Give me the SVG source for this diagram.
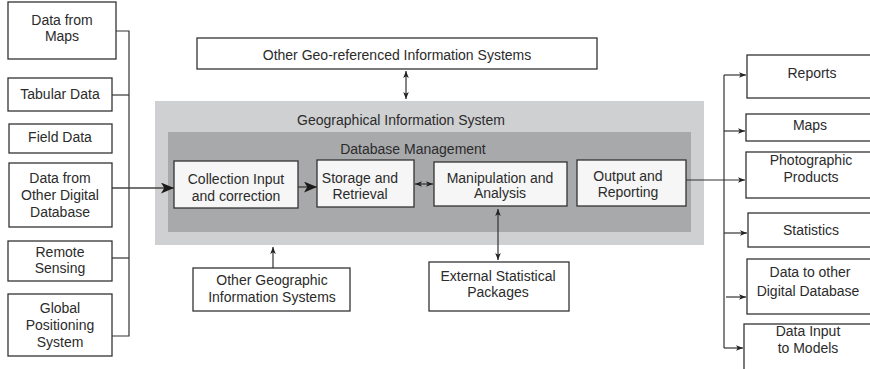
<svg xmlns="http://www.w3.org/2000/svg" width="870" height="369" viewBox="0 0 870 369">
<defs>
<style>
.box{fill:#ffffff;stroke:#333333;stroke-width:1.3}
.ibox{fill:#f6f6f6;stroke:#333333;stroke-width:1.3}
.t{font-family:"Liberation Sans",Arial,sans-serif;font-size:14px;fill:#2b2b2b;text-anchor:middle}
.ln{fill:none;stroke:#333333;stroke-width:1.2}
.lnb{fill:none;stroke:#444444;stroke-width:1.4}
</style>
<marker id="ah" viewBox="0 0 10 8" refX="10" refY="4" markerWidth="7" markerHeight="5.6" markerUnits="userSpaceOnUse" orient="auto-start-reverse">
<path d="M0,0 L10,4 L0,8 L2.5,4 Z" fill="#222222"/>
</marker>
<marker id="big" viewBox="0 0 12 10" refX="12" refY="5" markerWidth="13" markerHeight="11" markerUnits="userSpaceOnUse" orient="auto">
<path d="M0,0 L12,5 L0,10 L3,5 Z" fill="#1a1a1a"/>
</marker>
</defs>
<rect width="870" height="369" fill="#ffffff"/>

<g id="gis">
<rect x="155" y="101" width="549" height="144" fill="#cfd0d2"/>
<text class="t" x="401" y="125">Geographical Information System</text>
</g>
<g id="dbm">
<rect x="168" y="132" width="523" height="100" fill="#a8a9ab"/>
<text class="t" x="413" y="154">Database Management</text>
</g>

<g id="connectors">
<polyline class="ln" points="116,31 129,31 129,336 112,336"/>
<line class="ln" x1="112" y1="95" x2="129" y2="95"/>
<line class="ln" x1="112" y1="258" x2="129" y2="258"/>
<line class="lnb" x1="112" y1="188" x2="174" y2="188" marker-end="url(#big)"/>
<line class="lnb" x1="298" y1="187" x2="317" y2="187" marker-end="url(#big)"/>
<line class="ln" x1="415" y1="184" x2="433" y2="184" marker-start="url(#ah)" marker-end="url(#ah)"/>
<line class="ln" x1="406" y1="71" x2="406" y2="99" marker-start="url(#ah)" marker-end="url(#ah)"/>
<line class="ln" x1="273" y1="268" x2="273" y2="247" marker-end="url(#ah)"/>
<line class="ln" x1="498" y1="209" x2="498" y2="260" marker-start="url(#ah)" marker-end="url(#ah)"/>
<line class="ln" x1="686" y1="180" x2="745" y2="180" marker-end="url(#ah)"/>
<line class="ln" x1="724" y1="75" x2="724" y2="348"/>
<line class="ln" x1="724" y1="75" x2="746" y2="75" marker-end="url(#ah)"/>
<line class="ln" x1="724" y1="131" x2="745" y2="131" marker-end="url(#ah)"/>
<line class="ln" x1="724" y1="233" x2="747" y2="233" marker-end="url(#ah)"/>
<line class="ln" x1="726" y1="297" x2="746" y2="297" marker-end="url(#ah)"/>
<line class="ln" x1="724" y1="348" x2="743" y2="348" marker-end="url(#ah)"/>
</g>

<g id="data-from-maps"><rect class="box" x="8" y="2" width="108" height="57"/>
<text class="t" x="62" y="25">Data from</text><text class="t" x="62" y="41">Maps</text></g>
<g id="tabular-data"><rect class="box" x="8" y="78" width="104" height="33"/>
<text class="t" x="60" y="99">Tabular Data</text></g>
<g id="field-data"><rect class="box" x="9" y="124" width="103" height="29"/>
<text class="t" x="60" y="142">Field Data</text></g>
<g id="data-from-other"><rect class="box" x="9" y="163" width="103" height="64"/>
<text class="t" x="60" y="183">Data from</text><text class="t" x="60" y="200">Other Digital</text><text class="t" x="60" y="217">Database</text></g>
<g id="remote-sensing"><rect class="box" x="8" y="241" width="104" height="40"/>
<text class="t" x="60" y="257">Remote</text><text class="t" x="60" y="273">Sensing</text></g>
<g id="gps"><rect class="box" x="8" y="294" width="104" height="62"/>
<text class="t" x="60" y="313">Global</text><text class="t" x="60" y="330">Positioning</text><text class="t" x="60" y="347">System</text></g>

<g id="other-georef"><rect class="box" x="197" y="38" width="400" height="31"/>
<text class="t" x="397" y="60">Other Geo-referenced Information Systems</text></g>

<g id="collection"><rect class="ibox" x="174" y="161" width="124" height="47"/>
<text class="t" x="236" y="184">Collection Input</text><text class="t" x="236" y="201">and correction</text></g>
<g id="storage"><rect class="ibox" x="317" y="160" width="97" height="47"/>
<text class="t" x="360" y="183">Storage and</text><text class="t" x="360" y="199">Retrieval</text></g>
<g id="manipulation"><rect class="ibox" x="434" y="162" width="133" height="44"/>
<text class="t" x="500" y="183">Manipulation and</text><text class="t" x="500" y="198">Analysis</text></g>
<g id="output"><rect class="ibox" x="577" y="160" width="109" height="46"/>
<text class="t" x="628" y="181">Output and</text><text class="t" x="628" y="197">Reporting</text></g>

<g id="other-geographic"><rect class="box" x="193" y="268" width="157" height="43"/>
<text class="t" x="272" y="285">Other Geographic</text><text class="t" x="272" y="302">Information Systems</text></g>
<g id="external-stat"><rect class="box" x="429" y="262" width="140" height="49"/>
<text class="t" x="498" y="281">External Statistical</text><text class="t" x="498" y="297">Packages</text></g>

<g id="reports"><rect class="box" x="747" y="55" width="130" height="43"/>
<text class="t" x="812" y="78">Reports</text></g>
<g id="maps"><rect class="box" x="746" y="114" width="130" height="27"/>
<text class="t" x="810" y="130">Maps</text></g>
<g id="photographic"><rect class="box" x="746" y="152" width="130" height="46"/>
<text class="t" x="811" y="165">Photographic</text><text class="t" x="811" y="182">Products</text></g>
<g id="statistics"><rect class="box" x="748" y="213" width="130" height="34"/>
<text class="t" x="811" y="235">Statistics</text></g>
<g id="data-to-other"><rect class="box" x="747" y="259" width="130" height="55"/>
<text class="t" x="810" y="277">Data to other</text><text class="t" x="808" y="296">Digital Database</text></g>
<g id="data-input"><rect class="box" x="744" y="324" width="130" height="60"/>
<text class="t" x="808" y="336">Data Input</text><text class="t" x="808" y="353">to Models</text></g>
</svg>
